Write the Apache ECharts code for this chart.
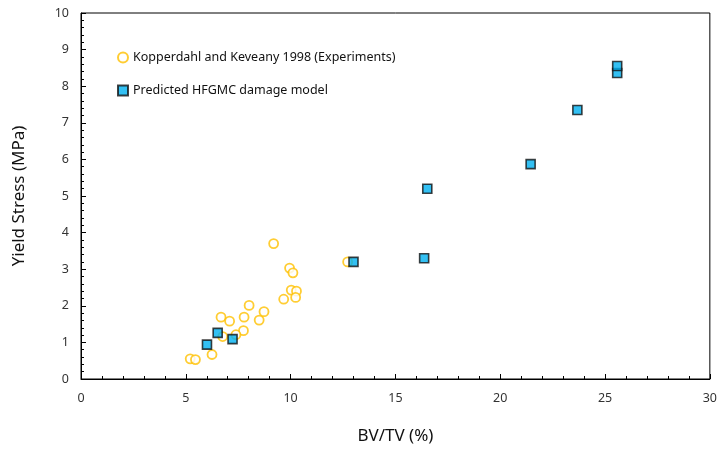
<!DOCTYPE html>
<html>
<head>
<meta charset="utf-8">
<script src="https://cdn.jsdelivr.net/npm/echarts@6/dist/echarts.min.js"></script>
<style>html,body{margin:0;padding:0;background:#fff}#c{width:720px;height:451px}</style>
</head>
<body>
<div id="c"></div>
<script>
// Experimental data: Kopperdahl and Keveany 1998
const expBVTV = [9.19, 12.72, 9.95, 10.11, 10.03, 10.28, 10.24, 9.67, 8.02, 8.73, 6.68, 7.78, 7.09, 8.50, 7.75, 7.39, 6.76, 6.25, 5.21, 5.46];
const expStress = [3.70, 3.20, 3.03, 2.90, 2.43, 2.40, 2.23, 2.18, 2.01, 1.84, 1.69, 1.69, 1.58, 1.61, 1.32, 1.21, 1.16, 0.67, 0.55, 0.53];
// Predicted HFGMC damage model
const modBVTV = [6.01, 6.52, 7.23, 13.0, 16.37, 16.52, 21.45, 23.68, 25.58, 25.58];
const modStress = [0.94, 1.26, 1.09, 3.20, 3.30, 5.20, 5.87, 7.35, 8.36, 8.55];
const seriesNames = ['Kopperdahl and Keveany 1998 (Experiments)', 'Predicted HFGMC damage model'];
const xName = 'BV/TV (%)';
const yName = 'Yield Stress (MPa)';

const font = 'Noto Sans';
const chart = echarts.init(document.getElementById('c'), null, {renderer: 'canvas'});
chart.setOption({
  animation: false,
  backgroundColor: '#fff',
  grid: {left: 81, right: 7, top: 13, bottom: 72, show: true, borderColor: '#000', borderWidth: 1},
  legend: {
    orient: 'vertical', left: 112, top: 46, itemGap: 20, itemWidth: 10, itemHeight: 10,
    textStyle: {fontFamily: font, fontSize: 12.5, color: '#111'},
    data: seriesNames
  },
  xAxis: {
    type: 'value', min: 0, max: 30, interval: 5,
    name: xName, nameLocation: 'middle', nameGap: 49,
    nameTextStyle: {fontFamily: font, fontSize: 17, color: '#111'},
    axisLine: {show: true, lineStyle: {color: '#000', width: 1}},
    axisTick: {show: true, inside: true, length: 5, lineStyle: {color: '#000'}},
    minorTick: {show: true, splitNumber: 5, length: 3, lineStyle: {color: '#000'}},
    splitLine: {show: false},
    axisLabel: {fontFamily: font, fontSize: 12.5, color: '#333', margin: 13}
  },
  yAxis: {
    type: 'value', min: 0, max: 10, interval: 1,
    name: yName, nameLocation: 'middle', nameGap: 53,
    nameTextStyle: {fontFamily: font, fontSize: 17, color: '#111'},
    axisLine: {show: true, lineStyle: {color: '#000', width: 1}},
    axisTick: {show: true, inside: true, length: 5, lineStyle: {color: '#000'}},
    minorTick: {show: true, splitNumber: 5, length: 3, lineStyle: {color: '#000'}},
    splitLine: {show: false},
    axisLabel: {fontFamily: font, fontSize: 12.5, color: '#333', margin: 12}
  },
  series: [
    {
      name: seriesNames[0], type: 'scatter', symbol: 'circle', symbolSize: 9,
      itemStyle: {color: '#fff', borderColor: '#FFC000', borderWidth: 1.8},
      data: expBVTV.map((x, i) => [x, expStress[i]])
    },
    {
      name: seriesNames[1], type: 'scatter', symbol: 'rect', symbolSize: 9,
      itemStyle: {color: '#00B0F0', borderColor: '#111', borderWidth: 1.6},
      data: modBVTV.map((x, i) => [x, modStress[i]])
    }
  ]
});
</script>
</body>
</html>
